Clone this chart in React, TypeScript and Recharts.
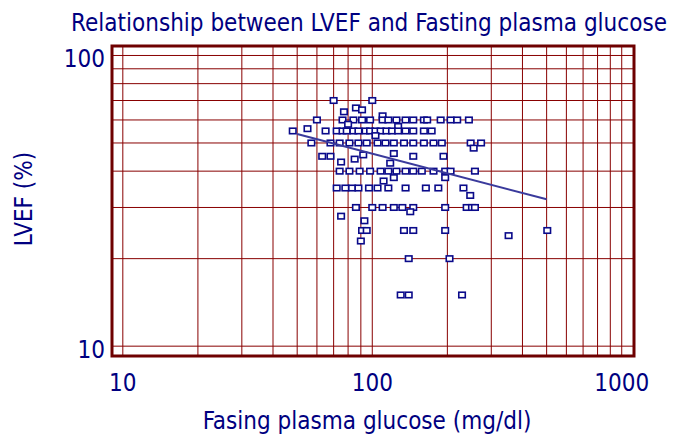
import React from "react";
import {
  ScatterChart,
  Scatter,
  XAxis,
  YAxis,
  CartesianGrid,
  ReferenceArea,
} from "recharts";

// ---- data ----
const glucose = [
  70, 100, 77, 86, 91, 110,
  60, 76, 84, 91, 98, 110, 116, 125, 136, 146, 161, 166, 188, 206, 219, 244,
  80, 127,
  48, 55, 65, 72, 76, 79, 84, 88, 94, 98, 103, 108, 114, 120, 127, 136, 146, 161, 173,
  103,
  57, 68, 74, 81, 88, 95, 105, 113, 122, 134, 146, 161, 176, 190, 248, 273, 255,
  63, 68, 85, 92, 122, 146, 193,
  75, 118,
  74, 81, 89, 98, 108, 116, 125, 136, 146, 158, 176, 196, 206, 258,
  196, 111, 122,
  72, 78, 83, 88, 97, 105, 116, 136, 164, 184, 232, 247,
  86, 100, 110, 122, 132, 146, 196, 239, 251, 258, 142,
  75, 93, 91, 95, 134, 146, 196, 352, 503, 90,
  140, 204,
  130, 140, 229,
];
const lvef = [
  70, 70, 64, 66, 65, 62,
  60, 60, 60, 60, 60, 60, 60, 60, 60, 60, 60, 60, 60, 60, 60, 60,
  58, 57,
  55, 56, 55, 55, 55, 55, 55, 55, 55, 55, 55, 55, 55, 55, 55, 55, 55, 55, 55,
  53,
  50, 50, 50, 50, 50, 50, 50, 50, 50, 50, 50, 50, 50, 50, 50, 50, 48,
  45, 45, 44, 45.5, 46, 45, 45,
  43, 42.6,
  40, 40, 40, 40, 40, 40, 40, 40, 40, 40, 40, 40, 40, 40,
  38, 37, 38,
  35, 35, 35, 35, 35, 35, 35, 35, 35, 35, 35, 33,
  30, 30, 30, 30, 30, 30, 30, 30, 30, 30, 29,
  28, 27, 25, 25, 25, 25, 25, 24, 25, 23,
  20, 20,
  15, 15, 15,
];

const fitGlucose = [50, 500];
const fitLvef = [53.7, 32];

const xTicks = [10, 20, 30, 40, 50, 60, 70, 80, 90, 100, 200, 300, 400, 500, 600, 700, 800, 900, 1000];
const xLabelTicks = [10, 100, 1000];
const yTicks = [10, 20, 30, 40, 50, 60, 70, 80, 90, 100];
const yLabelTicks = [10, 100];
const xDomain = [9.05, 1120];
const yDomain = [9.25, 107.8];

const titleText = "Relationship between LVEF and Fasting plasma glucose";
const xTitle = "Fasing plasma glucose (mg/dl)";
const yTitle = "LVEF (%)";

const points = glucose.map((g, i) => ({ x: g, y: lvef[i] }));
const fitData = fitGlucose.map((g, i) => ({ x: g, y: fitLvef[i] }));

const FONT = "'DejaVu Sans Condensed', 'DejaVu Sans', sans-serif";
const NAVY = "#000080";
const GRID = "#880000";

const SquareShape = (props: any) => {
  const { cx, cy } = props;
  if (cx == null || cy == null) return <g />;
  return (
    <rect
      x={cx - 3.25}
      y={cy - 2.75}
      width={6.5}
      height={5.5}
      fill="#ffffff"
      stroke="#0a0a8a"
      strokeWidth={1.6}
    />
  );
};

const NoShape = () => <g />;

const XTick = (props: any) => {
  const { x, y, payload } = props;
  if (!xLabelTicks.includes(payload.value)) return <g />;
  return (
    <text x={x} y={y + 35} textAnchor="middle" fill={NAVY} fontSize={24} fontFamily={FONT}>
      {payload.value}
    </text>
  );
};

const YTick = (props: any) => {
  const { x, y, payload } = props;
  if (!yLabelTicks.includes(payload.value)) return <g />;
  return (
    <text x={x - 7} y={y + 12} textAnchor="end" fill={NAVY} fontSize={24} fontFamily={FONT}>
      {payload.value}
    </text>
  );
};

export default function App() {
  return (
    <div style={{ position: "absolute", left: 0, top: 0, width: 673, height: 437, background: "#fff" }}>
      <ScatterChart
        width={673}
        height={437}
        margin={{ top: 46, right: 39, bottom: 21, left: 0 }}
      >
        <CartesianGrid stroke={GRID} strokeWidth={1} />
        <XAxis
          type="number"
          dataKey="x"
          scale="log"
          domain={xDomain}
          allowDataOverflow
          ticks={xTicks}
          tick={<XTick />}
          tickLine={false}
          axisLine={false}
          tickSize={0}
          tickMargin={0}
          height={60}
          interval={0}
        />
        <YAxis
          type="number"
          dataKey="y"
          scale="log"
          domain={yDomain}
          allowDataOverflow
          ticks={yTicks}
          tick={<YTick />}
          tickLine={false}
          axisLine={false}
          tickSize={0}
          tickMargin={0}
          width={112}
          interval={0}
        />
        <ReferenceArea
          x1={xDomain[0]}
          x2={xDomain[1]}
          y1={yDomain[0]}
          y2={yDomain[1]}
          fill="none"
          stroke="#6e0000"
          strokeWidth={3}
          ifOverflow="visible"
        />
        <Scatter data={points} shape={<SquareShape />} isAnimationActive={false} />
        <Scatter
          data={fitData}
          shape={<NoShape />}
          line={{ stroke: "#3a3a9c", strokeWidth: 2 }}
          isAnimationActive={false}
        />
      </ScatterChart>
      <svg
        width={673}
        height={437}
        style={{ position: "absolute", left: 0, top: 0, pointerEvents: "none" }}
      >
        <text x={369} y={31} textAnchor="middle" fill={NAVY} fontSize={24} fontFamily={FONT}>
          {titleText}
        </text>
        <text x={367} y={429} textAnchor="middle" fill={NAVY} fontSize={24} fontFamily={FONT}>
          {xTitle}
        </text>
        <text
          x={0}
          y={0}
          transform="translate(32,199) rotate(-90)"
          textAnchor="middle"
          fill={NAVY}
          fontSize={24}
          fontFamily={FONT}
        >
          {yTitle}
        </text>
      </svg>
    </div>
  );
}
